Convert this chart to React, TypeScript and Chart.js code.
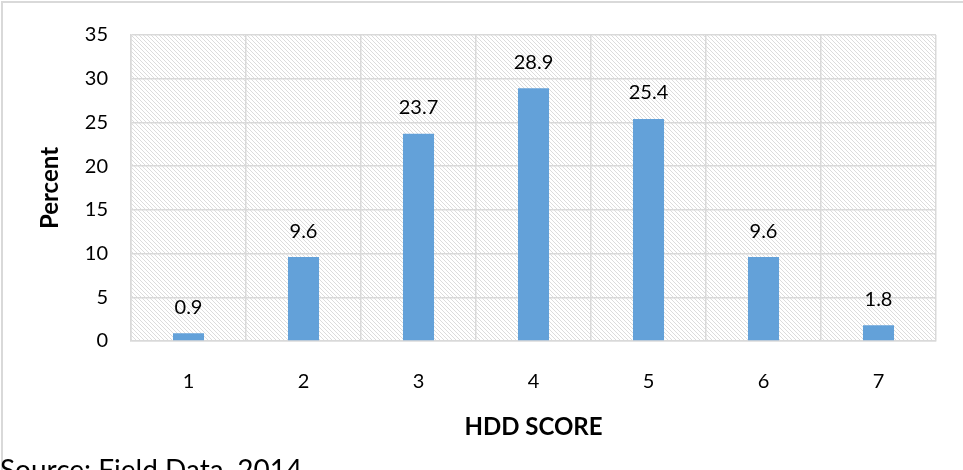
import { useEffect, useRef } from "react";
import { Chart, registerables } from "chart.js";

Chart.register(...registerables);

const categories = ["1", "2", "3", "4", "5", "6", "7"];
const percentValues = [0.9, 9.6, 23.7, 28.9, 25.4, 9.6, 1.8];
const yMin = 0;
const yMax = 35;
const yStep = 5;
const xAxisTitle = "HDD SCORE";
const yAxisTitle = "Percent";
const sourceNote = "Source: Field Data, 2014";

const FONT = "Lato, 'Open Sans', sans-serif";
const BAR_COLOR = "#63a1d9";
const GRID_COLOR = "#d9d9d9";

function makePattern(ctx: CanvasRenderingContext2D) {
  const c = document.createElement("canvas");
  c.width = 4;
  c.height = 4;
  const p = c.getContext("2d")!;
  p.fillStyle = "#ffffff";
  p.fillRect(0, 0, 4, 4);
  for (let i = 0; i < 4; i++) {
    p.fillStyle = "#dcdcdc";
    p.fillRect(i, i, 1, 1);
  }
  return ctx.createPattern(c, "repeat");
}

const decorPlugin = {
  id: "decor",
  beforeDraw(chart: any) {
    const { ctx, chartArea, width, height } = chart;
    ctx.save();
    ctx.fillStyle = "#ffffff";
    ctx.fillRect(0, 0, width, height);
    ctx.fillStyle = "#d9d9d9";
    ctx.fillRect(1, 1, width - 1, 2);
    ctx.fillRect(1, 1, 2, height - 1);
    const pat = makePattern(ctx);
    if (pat) {
      ctx.fillStyle = pat;
      ctx.fillRect(
        chartArea.left,
        chartArea.top,
        chartArea.right - chartArea.left,
        chartArea.bottom - chartArea.top
      );
    }
    ctx.restore();
  },
  afterDatasetsDraw(chart: any) {
    const { ctx } = chart;
    const meta = chart.getDatasetMeta(0);
    ctx.save();
    ctx.fillStyle = "#000000";
    ctx.font = `20px ${FONT}`;
    ctx.textAlign = "center";
    ctx.textBaseline = "middle";
    meta.data.forEach((bar: any, i: number) => {
      const v = chart.data.datasets[0].data[i];
      ctx.fillText(String(v), bar.x, bar.y - 26);
    });
    ctx.restore();
  },
  afterDraw(chart: any) {
    const { ctx, chartArea, height } = chart;
    ctx.save();
    ctx.fillStyle = "#000000";
    ctx.textAlign = "center";
    ctx.textBaseline = "middle";
    ctx.font = `bold 24px ${FONT}`;
    ctx.fillText(xAxisTitle, (chartArea.left + chartArea.right) / 2, 427);
    ctx.save();
    ctx.translate(50, (chartArea.top + chartArea.bottom) / 2);
    ctx.rotate(-Math.PI / 2);
    ctx.fillText(yAxisTitle, 0, 0);
    ctx.restore();
    ctx.textAlign = "left";
    ctx.textBaseline = "alphabetic";
    ctx.font = `28px ${FONT}`;
    ctx.fillText(sourceNote, 0, height + 10);
    ctx.restore();
  },
};

export default function App() {
  const ref = useRef<HTMLCanvasElement>(null);
  useEffect(() => {
    document.body.style.margin = "0";
    const canvas = ref.current!;
    const chart = new Chart(canvas, {
      type: "bar",
      data: {
        labels: categories,
        datasets: [
          {
            data: percentValues,
            backgroundColor: BAR_COLOR,
            borderWidth: 0,
            barPercentage: 0.27,
            categoryPercentage: 1,
          },
        ],
      },
      options: {
        animation: false,
        responsive: false,
        maintainAspectRatio: false,
        devicePixelRatio: 1,
        layout: { padding: { top: 30, right: 27, left: 0, bottom: 0 } },
        plugins: {
          legend: { display: false },
          tooltip: { enabled: false },
          title: { display: false },
        },
        scales: {
          x: {
            grid: { color: GRID_COLOR, offset: true, drawTicks: false, lineWidth: 1.5 },
            border: { display: true, color: GRID_COLOR, width: 1.5 },
            ticks: { color: "#000", font: { family: FONT, size: 20 }, padding: 29 },
            afterFit: (s: any) => {
              s.height = 129;
            },
          },
          y: {
            min: yMin,
            max: yMax,
            grid: { color: GRID_COLOR, drawTicks: false, lineWidth: 1.5 },
            border: { display: true, color: GRID_COLOR, width: 1.5 },
            ticks: {
              stepSize: yStep,
              color: "#000",
              font: { family: FONT, size: 20 },
              padding: 23,
            },
            afterFit: (s: any) => {
              s.width = 131;
            },
          },
        },
      },
      plugins: [decorPlugin],
    });
    return () => chart.destroy();
  }, []);
  return (
    <div style={{ position: "fixed", left: 0, top: 0, width: 963, height: 470 }}>
      <canvas ref={ref} width={963} height={470} style={{ display: "block" }} />
    </div>
  );
}
